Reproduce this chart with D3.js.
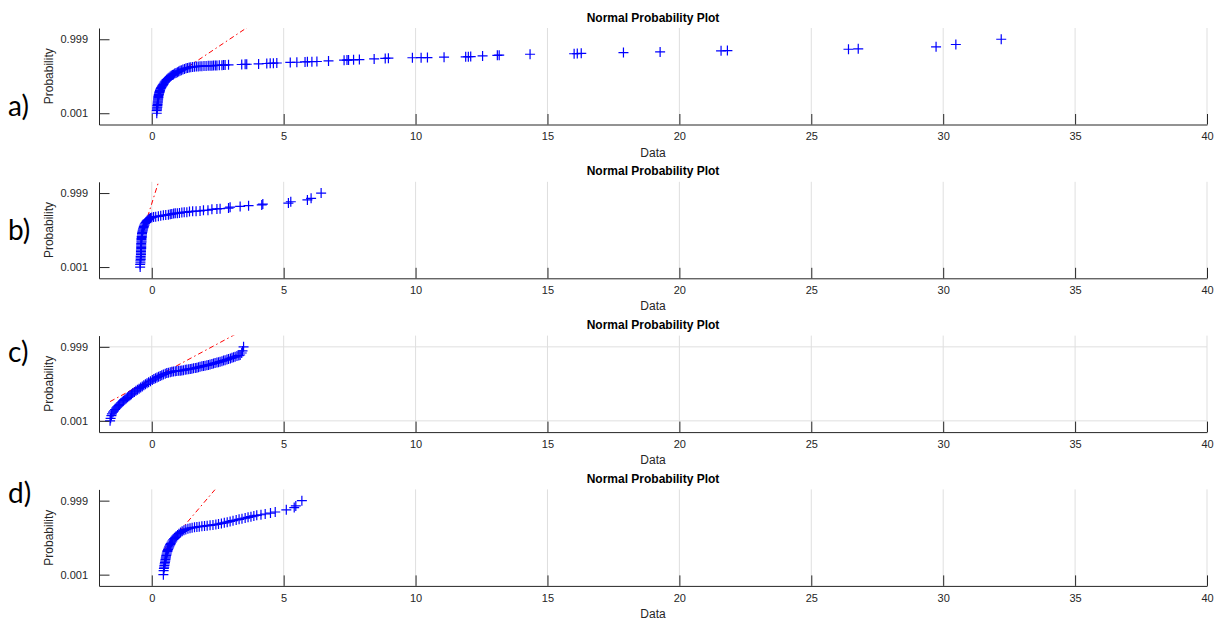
<!DOCTYPE html>
<html><head><meta charset="utf-8">
<script src="https://cdn.jsdelivr.net/npm/d3@7"></script>
<style>body{margin:0;background:#fff;} svg{display:block;}</style>
</head><body>
<svg id="chart" width="1225" height="620"></svg>
<script>
// ---------- data ----------
const xTicks = [0, 5, 10, 15, 20, 25, 30, 35, 40];
const probTicks = [0.001, 0.999];
const panelLetters = ["a)", "b)", "c)", "d)"];
const titleText = "Normal Probability Plot";

const aData = [0.19,0.19,0.20,0.20,0.21,0.21,0.22,0.22,0.23,0.23,0.24,0.24,0.25,0.25,0.26,0.27,0.28,0.29,0.30,0.31,0.32,0.34,0.36,0.38,0.40,0.42,0.44,0.46,0.49,0.52,0.55,0.58,0.62,0.66,0.70,0.74,0.78,0.82,0.87,0.92,0.97,1.02,1.07,1.12,1.18,1.24,1.30,1.36,1.42,1.48,1.55,1.62,1.69,1.76,1.83,1.90,1.98,2.06,2.14,2.21,2.28,2.34,2.41,2.47,2.56,2.66,2.72,2.78,2.91,3.41,3.54,3.60,4.05,4.36,4.49,4.61,4.74,5.25,5.50,5.81,5.90,6.07,6.26,6.70,7.29,7.40,7.46,7.65,7.87,8.43,8.85,8.97,9.88,10.21,10.45,11.08,11.90,12.00,12.09,12.54,13.10,13.17,14.34,16.01,16.13,16.28,17.88,19.27,21.58,21.82,26.41,26.78,29.73,30.48,32.20];
const aProb = [0.001,0.002,0.003,0.004,0.005,0.007,0.009,0.012,0.015,0.019,0.024,0.03,0.037,0.045,0.055,0.066,0.078,0.09,0.10,0.115,0.13,0.15,0.17,0.19,0.21,0.23,0.25,0.28,0.31,0.34,0.37,0.40,0.43,0.46,0.49,0.52,0.54,0.56,0.59,0.61,0.63,0.655,0.675,0.695,0.715,0.73,0.745,0.757,0.767,0.775,0.781,0.786,0.791,0.795,0.798,0.801,0.804,0.806,0.808,0.810,0.812,0.813,0.815,0.816,0.819,0.822,0.824,0.826,0.829,0.837,0.840,0.842,0.849,0.857,0.860,0.863,0.866,0.876,0.879,0.885,0.887,0.889,0.891,0.900,0.910,0.912,0.913,0.915,0.918,0.926,0.932,0.934,0.939,0.940,0.941,0.944,0.948,0.949,0.950,0.955,0.960,0.961,0.967,0.970,0.971,0.972,0.976,0.979,0.983,0.984,0.988,0.989,0.993,0.996,0.999];

const bData = [-0.44,-0.44,-0.43,-0.43,-0.42,-0.42,-0.42,-0.41,-0.41,-0.41,-0.41,-0.40,-0.40,-0.40,-0.40,-0.40,-0.39,-0.39,-0.39,-0.39,-0.38,-0.38,-0.37,-0.37,-0.36,-0.35,-0.34,-0.33,-0.31,-0.30,-0.28,-0.26,-0.23,-0.20,-0.17,-0.13,-0.09,-0.05,0.00,0.07,0.15,0.25,0.34,0.44,0.53,0.63,0.70,0.76,0.83,0.89,0.97,1.05,1.14,1.23,1.33,1.43,1.55,1.68,1.83,1.96,2.13,2.28,2.47,2.59,2.91,2.97,3.35,3.67,4.17,4.21,5.18,5.27,5.90,6.04,6.42];
const bProb = [0.001,0.002,0.003,0.005,0.007,0.01,0.014,0.02,0.027,0.036,0.047,0.06,0.075,0.09,0.11,0.13,0.155,0.18,0.21,0.24,0.27,0.30,0.34,0.38,0.42,0.46,0.50,0.54,0.58,0.62,0.66,0.70,0.735,0.765,0.79,0.81,0.83,0.845,0.855,0.862,0.868,0.875,0.882,0.890,0.895,0.900,0.905,0.910,0.915,0.919,0.921,0.922,0.930,0.931,0.932,0.939,0.941,0.943,0.944,0.950,0.951,0.958,0.961,0.963,0.967,0.972,0.976,0.979,0.982,0.985,0.988,0.991,0.994,0.996,0.999];

const cData = [-1.58,-1.56,-1.53,-1.51,-1.47,-1.43,-1.39,-1.35,-1.31,-1.26,-1.22,-1.17,-1.12,-1.07,-1.02,-0.97,-0.92,-0.87,-0.82,-0.77,-0.72,-0.66,-0.60,-0.54,-0.48,-0.42,-0.36,-0.30,-0.24,-0.18,-0.12,-0.05,0.02,0.08,0.14,0.20,0.26,0.32,0.38,0.44,0.51,0.57,0.63,0.70,0.76,0.82,0.89,0.95,1.02,1.08,1.14,1.20,1.27,1.33,1.40,1.46,1.52,1.58,1.65,1.71,1.77,1.83,1.90,1.96,2.02,2.09,2.15,2.21,2.28,2.34,2.40,2.47,2.53,2.59,2.66,2.72,2.78,2.85,2.91,2.98,3.04,3.10,3.16,3.23,3.30,3.35,3.41,3.44,3.48];
const cProb = [0.001,0.002,0.004,0.006,0.009,0.012,0.016,0.021,0.027,0.035,0.044,0.055,0.067,0.08,0.095,0.11,0.13,0.15,0.17,0.195,0.22,0.25,0.28,0.31,0.345,0.38,0.415,0.45,0.485,0.52,0.555,0.59,0.625,0.655,0.68,0.705,0.725,0.745,0.765,0.785,0.80,0.815,0.825,0.835,0.843,0.850,0.855,0.858,0.861,0.864,0.868,0.874,0.880,0.886,0.890,0.894,0.898,0.902,0.907,0.912,0.918,0.923,0.928,0.932,0.935,0.939,0.943,0.947,0.951,0.956,0.959,0.962,0.965,0.968,0.971,0.974,0.976,0.979,0.981,0.983,0.985,0.987,0.988,0.990,0.991,0.992,0.995,0.997,0.999];

const dData = [0.44,0.45,0.46,0.47,0.48,0.49,0.50,0.51,0.52,0.53,0.54,0.55,0.56,0.57,0.59,0.60,0.62,0.64,0.66,0.68,0.70,0.72,0.75,0.78,0.81,0.85,0.89,0.93,0.98,1.03,1.09,1.15,1.22,1.29,1.37,1.45,1.53,1.62,1.71,1.80,1.90,2.00,2.10,2.21,2.32,2.43,2.53,2.64,2.75,2.86,2.97,3.08,3.20,3.31,3.42,3.54,3.65,3.76,3.87,3.98,4.14,4.30,4.50,4.68,5.10,5.40,5.46,5.69];
const dProb = [0.001,0.003,0.005,0.007,0.01,0.014,0.019,0.025,0.033,0.043,0.055,0.068,0.083,0.10,0.12,0.14,0.165,0.19,0.22,0.25,0.28,0.31,0.35,0.39,0.43,0.47,0.51,0.55,0.59,0.63,0.67,0.70,0.73,0.75,0.77,0.785,0.795,0.805,0.813,0.820,0.828,0.835,0.842,0.848,0.856,0.864,0.873,0.882,0.892,0.902,0.912,0.922,0.930,0.937,0.943,0.949,0.955,0.960,0.965,0.969,0.972,0.976,0.980,0.984,0.990,0.994,0.996,0.999];

// reference line: data values at the first and third quartile probabilities
const refQ1 = [0.38, -0.411, -0.90, 0.59];
const refQ3 = [1.30, -0.219, 0.24, 1.11];
const showYGrid = [false, false, true, false];

const panelsData = [aData, bData, cData, dData];
const panelsProb = [aProb, bProb, cProb, dProb];

// ---------- helpers ----------
function probit(p){
  const a=[-3.969683028665376e+01,2.209460984245205e+02,-2.759285104469687e+02,1.383577518672690e+02,-3.066479806614716e+01,2.506628277459239e+00];
  const b=[-5.447609879822406e+01,1.615858368580409e+02,-1.556989798598866e+02,6.680131188771972e+01,-1.328068155288572e+01];
  const c=[-7.784894002430293e-03,-3.223964580411365e-01,-2.400758277161838e+00,-2.549732539343734e+00,4.374664141464968e+00,2.938163982698783e+00];
  const d=[7.784695709041462e-03,3.224671290700398e-01,2.445134137142996e+00,3.754408661907416e+00];
  const pl=0.02425, ph=1-pl; let q,r;
  if(p<pl){q=Math.sqrt(-2*Math.log(p));return (((((c[0]*q+c[1])*q+c[2])*q+c[3])*q+c[4])*q+c[5])/((((d[0]*q+d[1])*q+d[2])*q+d[3])*q+1);}
  if(p<=ph){q=p-0.5;r=q*q;return (((((a[0]*r+a[1])*r+a[2])*r+a[3])*r+a[4])*r+a[5])*q/(((((b[0]*r+b[1])*r+b[2])*r+b[3])*r+b[4])*r+1);}
  q=Math.sqrt(-2*Math.log(1-p));return -(((((c[0]*q+c[1])*q+c[2])*q+c[3])*q+c[4])*q+c[5])/((((d[0]*q+d[1])*q+d[2])*q+d[3])*q+1);
}

// ---------- layout ----------
const svg = d3.select("#chart");
const left = 99, right = 1207;
const top0 = 28, step = 153.8, ph = 96.5;
const zMax = 4.03;
const axisColor = "#262626";
const font = "Arial, 'Liberation Sans', Helvetica, sans-serif";
const letterY = [115.5, 240, 361.7, 503.3];

const x = d3.scaleLinear().domain([-2, 40]).range([left, right]);

panelsData.forEach((data, i) => {
  const top = top0 + step * i;
  const bottom = top + ph;
  const y = d3.scaleLinear().domain([-zMax, zMax]).range([bottom, top]);
  const g = svg.append("g");

  const cid = "clip" + i;
  svg.append("clipPath").attr("id", cid).append("rect")
    .attr("x", left).attr("y", top).attr("width", right - left).attr("height", ph);

  // grid
  g.append("g").selectAll("line").data(xTicks).join("line")
    .attr("x1", d => x(d)).attr("x2", d => x(d)).attr("y1", top).attr("y2", bottom)
    .attr("stroke", "#dfdfdf").attr("stroke-width", 1);
  if (showYGrid[i]) {
    g.append("g").selectAll("line").data(probTicks).join("line")
      .attr("x1", left).attr("x2", right)
      .attr("y1", d => y(probit(d))).attr("y2", d => y(probit(d)))
      .attr("stroke", "#dfdfdf").attr("stroke-width", 1);
  }

  // reference line
  const z1 = probit(0.25), z3 = probit(0.75);
  const slope = (z3 - z1) / (refQ3[i] - refQ1[i]);
  const xmin = d3.min(data), xmax = d3.max(data);
  const lg = g.append("g").attr("clip-path", `url(#${cid})`);
  lg.append("line")
    .attr("x1", x(xmin)).attr("y1", y(z1 + slope * (xmin - refQ1[i])))
    .attr("x2", x(xmax)).attr("y2", y(z1 + slope * (xmax - refQ1[i])))
    .attr("stroke", "#ff0000").attr("stroke-width", 1)
    .attr("stroke-dasharray", "5,3,1.5,3");
  lg.append("line")
    .attr("x1", x(refQ1[i])).attr("y1", y(z1))
    .attr("x2", x(refQ3[i])).attr("y2", y(z3))
    .attr("stroke", "#ff0000").attr("stroke-width", 1);

  // markers
  const probs = panelsProb[i];
  g.append("g").selectAll("path").data(data).join("path")
    .attr("transform", (d, k) => `translate(${x(d)},${y(probit(probs[k]))})`)
    .attr("d", "M-5,0H5M0,-5V5")
    .attr("stroke", "#0000ff").attr("stroke-width", 1.2).attr("fill", "none");

  // axes
  const xAxis = d3.axisBottom(x).tickValues(xTicks).tickSizeInner(-10.5).tickSizeOuter(0).tickPadding(8);
  const xg = g.append("g").attr("transform", `translate(0,${bottom})`).call(xAxis);
  const yAxis = d3.axisLeft(y).tickValues(probTicks.map(probit))
    .tickFormat((d, k) => String(probTicks[k])).tickSizeInner(-10.5).tickSizeOuter(0).tickPadding(11);
  const yg = g.append("g").attr("transform", `translate(${left},0)`).call(yAxis);
  [xg, yg].forEach(a => {
    a.select(".domain").attr("stroke", axisColor).attr("stroke-width", 1);
    a.selectAll(".tick line").attr("stroke", axisColor);
    a.selectAll(".tick text").attr("fill", axisColor).attr("font-family", font).attr("font-size", 11);
  });

  // titles / labels
  g.append("text").attr("x", (left + right) / 2).attr("y", top - 6.5)
    .attr("text-anchor", "middle").attr("font-family", font).attr("font-weight", "bold")
    .attr("font-size", 12).attr("fill", "#000").text(titleText);
  g.append("text").attr("x", (left + right) / 2).attr("y", bottom + 32)
    .attr("text-anchor", "middle").attr("font-family", font).attr("font-size", 12)
    .attr("fill", axisColor).text("Data");
  g.append("text").attr("transform", `translate(49,${(top + bottom) / 2}) rotate(-90)`)
    .attr("text-anchor", "middle").attr("dominant-baseline", "central")
    .attr("font-family", font).attr("font-size", 12).attr("fill", axisColor).text("Probability");
  svg.append("text").attr("x", 8).attr("y", letterY[i])
    .attr("font-family", "Lato, 'Open Sans', sans-serif").attr("font-size", 28)
    .attr("fill", "#000").text(panelLetters[i]);
});
</script>
</body></html>
